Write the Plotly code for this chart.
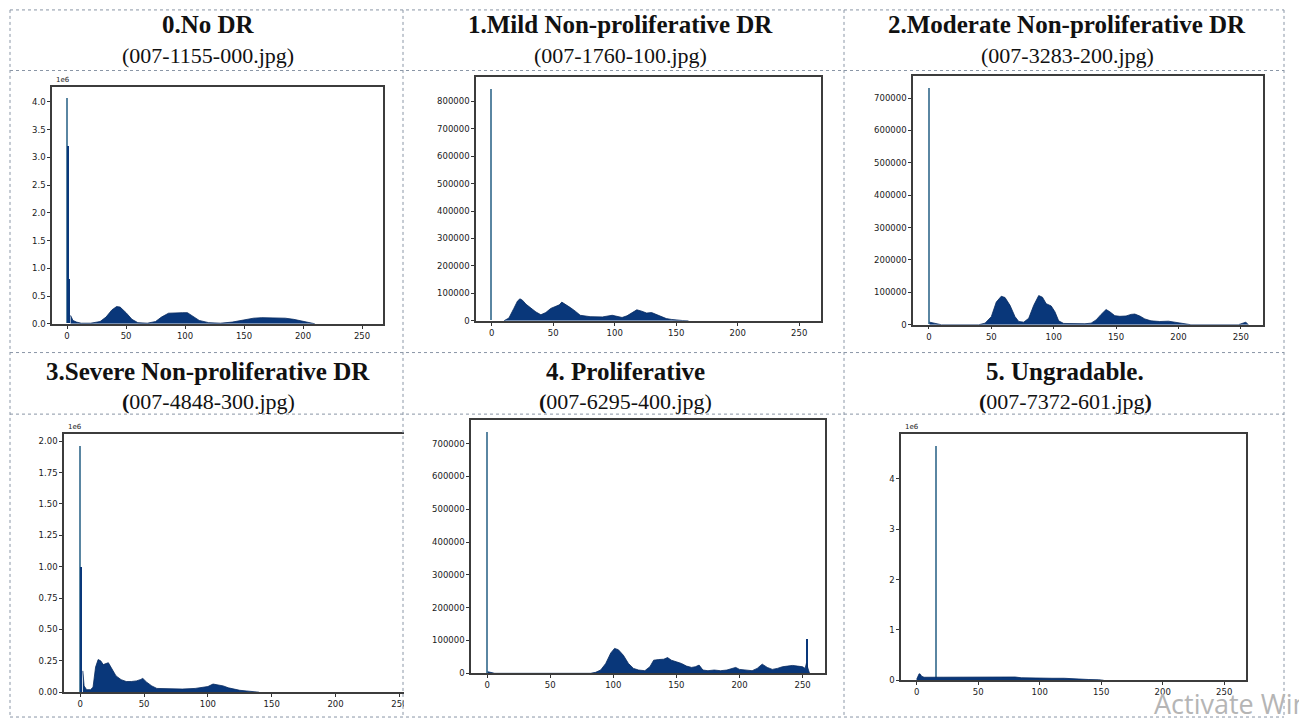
import plotly.graph_objects as go

# ---------------- data ----------------
titles = ["0.No DR", "1.Mild Non-proliferative DR", "2.Moderate Non-proliferative DR",
          "3.Severe Non-proliferative DR", "4. Proliferative", "5. Ungradable."]
files = ["(007-1155-000.jpg)", "(007-1760-100.jpg)", "(007-3283-200.jpg)",
         "<b>(</b>007-4848-300.jpg)", "<b>(</b>007-6295-400.jpg)", "<b>(</b>007-7372-601.jpg<b>)</b>"]

x_ticks = [0, 50, 100, 150, 200, 250]

# Panel 0 : 0.No DR
p0_x = [3, 5, 8, 12, 20, 28, 33, 38, 42, 45, 50, 55, 60, 68, 75, 80, 86, 92, 98, 102, 106, 112,
        120, 130, 140, 150, 158, 165, 175, 185, 192, 198, 204, 210]
p0_y = [150000, 60000, 30000, 10000, 10000, 40000, 120000, 250000, 310000, 300000, 200000, 80000,
        20000, 10000, 40000, 120000, 190000, 200000, 200000, 200000, 150000, 60000, 20000, 10000,
        30000, 70000, 100000, 110000, 110000, 100000, 80000, 50000, 20000, 0]
p0_spike_x = [0, 1, 2]
p0_spike_y = [4060000, 3200000, 800000]

# Panel 1 : Mild
p1_x = [10, 14, 18, 21, 23, 25, 28, 32, 36, 40, 44, 48, 52, 55, 57, 60, 64, 68, 72, 80, 90, 98,
        102, 106, 110, 114, 118, 122, 126, 130, 134, 138, 142, 146, 150, 155, 160]
p1_y = [0, 10000, 45000, 72000, 80000, 75000, 60000, 45000, 32000, 22000, 30000, 45000, 52000,
        58000, 68000, 60000, 48000, 35000, 20000, 15000, 14000, 20000, 15000, 12000, 18000, 30000,
        40000, 35000, 28000, 30000, 22000, 14000, 8000, 5000, 2000, 1000, 0]
p1_spike_x = [0]
p1_spike_y = [845000]

# Panel 2 : Moderate
p2_x = [0.5, 3, 6, 10, 40, 45, 50, 54, 58, 61, 65, 69, 72, 76, 80, 84, 88, 91, 94, 98, 101, 104,
        108, 115, 125, 130, 134, 138, 142, 145, 149, 153, 158, 162, 165, 169, 173, 178, 185, 192,
        198, 202, 206, 210, 248, 251, 254, 256]
p2_y = [8000, 6000, 2000, 0, 0, 5000, 25000, 70000, 88000, 84000, 60000, 25000, 10000, 8000,
        20000, 60000, 90000, 85000, 65000, 58000, 40000, 12000, 4000, 3000, 3000, 5000, 15000,
        32000, 47000, 40000, 28000, 26000, 27000, 32000, 33000, 27000, 18000, 12000, 10000, 11000,
        8000, 5000, 2000, 0, 0, 5000, 8000, 0]
p2_spike_x = [0]
p2_spike_y = [730000]

# Panel 3 : Severe
p3_x = [2, 3, 5, 8, 10, 12, 14, 16, 18, 20, 22, 24, 26, 28, 32, 36, 40, 44, 47, 49, 52, 56, 60,
        70, 80, 90, 95, 100, 104, 108, 112, 116, 120, 125, 130, 135, 140]
p3_y = [170000, 50000, 20000, 20000, 40000, 200000, 260000, 250000, 220000, 230000, 235000,
        200000, 160000, 130000, 100000, 85000, 85000, 90000, 100000, 110000, 80000, 50000, 30000,
        25000, 25000, 30000, 35000, 45000, 65000, 58000, 50000, 35000, 25000, 15000, 10000, 4000, 0]
p3_spike_x = [0, 1]
p3_spike_y = [1960000, 1000000]

# Panel 4 : Proliferative
p4_x = [0.5, 3, 6, 82, 86, 90, 94, 98, 101, 104, 108, 112, 116, 120, 125, 129, 132, 136, 140,
        143, 146, 150, 154, 158, 162, 165, 168, 171, 175, 180, 185, 190, 194, 197, 200, 205, 210,
        214, 218, 222, 226, 230, 234, 238, 242, 246, 250, 252, 253, 255.5]
p4_y = [5000, 3000, 0, 0, 3000, 10000, 30000, 62000, 76000, 72000, 55000, 30000, 15000, 10000,
        8000, 20000, 40000, 42000, 43000, 48000, 40000, 35000, 30000, 22000, 18000, 20000, 25000,
        10000, 8000, 10000, 8000, 10000, 15000, 18000, 12000, 10000, 8000, 15000, 28000, 18000,
        12000, 15000, 20000, 22000, 24000, 22000, 20000, 15000, 30000, 0]
p4_spike_x = [0, 254]
p4_spike_y = [735000, 105000]

# Panel 5 : Ungradable
p5_x = [0, 1, 2, 3, 4, 6, 10, 15, 20, 30, 40, 50, 60, 70, 80, 85, 90, 100, 110, 120, 125, 130,
        140, 148, 152]
p5_y = [20000, 100000, 130000, 120000, 80000, 60000, 60000, 70000, 70000, 70000, 65000, 70000,
        65000, 70000, 65000, 50000, 45000, 45000, 40000, 40000, 30000, 20000, 15000, 10000, 0]
p5_spike_x = [16]
p5_spike_y = [4660000]

p0_yticks = [0, 500000, 1000000, 1500000, 2000000, 2500000, 3000000, 3500000, 4000000]
p0_ylabels = ["0.0", "0.5", "1.0", "1.5", "2.0", "2.5", "3.0", "3.5", "4.0"]
p1_yticks = [0, 100000, 200000, 300000, 400000, 500000, 600000, 700000, 800000]
p1_ylabels = ["0", "100000", "200000", "300000", "400000", "500000", "600000", "700000", "800000"]
p2_yticks = [0, 100000, 200000, 300000, 400000, 500000, 600000, 700000]
p2_ylabels = ["0", "100000", "200000", "300000", "400000", "500000", "600000", "700000"]
p3_yticks = [0, 250000, 500000, 750000, 1000000, 1250000, 1500000, 1750000, 2000000]
p3_ylabels = ["0.00", "0.25", "0.50", "0.75", "1.00", "1.25", "1.50", "1.75", "2.00"]
p4_yticks = p2_yticks
p4_ylabels = p2_ylabels
p5_yticks = [0, 1000000, 2000000, 3000000, 4000000]
p5_ylabels = ["0", "1", "2", "3", "4"]
offset_texts = ["1e6", "", "", "1e6", "", "1e6"]

panels = [
    (p0_x, p0_y, p0_spike_x, p0_spike_y, p0_yticks, p0_ylabels),
    (p1_x, p1_y, p1_spike_x, p1_spike_y, p1_yticks, p1_ylabels),
    (p2_x, p2_y, p2_spike_x, p2_spike_y, p2_yticks, p2_ylabels),
    (p3_x, p3_y, p3_spike_x, p3_spike_y, p3_yticks, p3_ylabels),
    (p4_x, p4_y, p4_spike_x, p4_spike_y, p4_yticks, p4_ylabels),
    (p5_x, p5_y, p5_spike_x, p5_spike_y, p5_yticks, p5_ylabels),
]

# ---------------- layout geometry (pixels) ----------------
W, H = 1299, 725
# (left, right, top, bottom) of each plot frame
frames = [(52, 383, 88, 326), (476, 821, 78, 323), (913, 1263, 77, 327),
          (64, 422, 437, 697), (471, 825, 423, 678), (901, 1246, 437, 685)]
title_pos = [(208, 25, 56), (620, 25, 56), (1067, 25, 56),
             (208, 374, 404), (625, 374, 404), (1065, 374, 404)]

NAVY = "#09377a"
NAVY_EDGE = "#062a60"
SPIKE = "#5a86a2"
FRAME = "#3c3c3c"

fig = go.Figure()
layout = dict(width=W, height=H, margin=dict(l=0, r=0, t=0, b=0),
              paper_bgcolor="white", plot_bgcolor="white", showlegend=False,
              barmode="overlay", bargap=0)

annotations = []
shapes = []

def px(xp):
    return xp / W

def py(yp):
    return 1 - yp / H

for i, (xs, ys, sx, sy, yt, yl) in enumerate(panels):
    n = "" if i == 0 else str(i + 1)
    xa, ya = "x" + n, "y" + n
    fig.add_trace(go.Scatter(x=xs, y=ys, mode="lines", fill="tozeroy",
                             fillcolor=NAVY, line=dict(color=NAVY_EDGE, width=0.8),
                             xaxis=xa, yaxis=ya, hoverinfo="skip"))
    colors = [SPIKE if k == 0 else NAVY for k in range(len(sx))]
    if i == 4:
        colors = [SPIKE, NAVY]
    fig.add_trace(go.Bar(x=sx, y=sy, width=1.3, marker=dict(color=colors, line=dict(width=0)),
                         xaxis=xa, yaxis=ya, hoverinfo="skip"))
    l, r, t, b = frames[i]
    ymax = 1.05 * max(max(ys), max(sy))
    axis_common = dict(showline=True, linecolor=FRAME, linewidth=1.5, mirror=True,
                       showgrid=False, zeroline=False, ticks="outside", ticklen=3,
                       tickwidth=1, tickcolor="#333",
                       tickfont=dict(family="DejaVu Sans", size=8.5, color="#1a1a1a"))
    layout["xaxis" + n] = dict(domain=[px(l), px(r)], range=[-12.75, 267.75],
                               tickvals=x_ticks, anchor=ya, **axis_common)
    layout["yaxis" + n] = dict(domain=[py(b), py(t)], range=[0, ymax],
                               tickvals=yt, ticktext=yl, anchor=xa, **axis_common)
    if offset_texts[i]:
        annotations.append(dict(text=offset_texts[i], xref="paper", yref="paper",
                                x=px(l + 2), y=py(t - 1), xanchor="left", yanchor="bottom",
                                showarrow=False, font=dict(family="DejaVu Sans", size=7, color="#222")))
    cx, ty, sy_ = title_pos[i]
    annotations.append(dict(text="<b>" + titles[i] + "</b>", xref="paper", yref="paper",
                            x=px(cx), y=py(ty), xanchor="center", yanchor="middle",
                            showarrow=False,
                            font=dict(family="Liberation Serif", size=25, color="#111")))
    annotations.append(dict(text=files[i], xref="paper", yref="paper",
                            x=px(cx), y=py(sy_), xanchor="center", yanchor="middle",
                            showarrow=False,
                            font=dict(family="Liberation Serif", size=22, color="#111")))

# white cover that clips panel 3 at the column divider
shapes.append(dict(type="rect", xref="paper", yref="paper", x0=px(404), x1=px(425),
                   y0=py(712), y1=py(425), fillcolor="white", line=dict(width=0), layer="above"))

DASH = dict(color="#8a96a6", width=1, dash="dot")
for xv in [10, 403, 844, 1284]:
    shapes.append(dict(type="line", xref="paper", yref="paper", x0=px(xv), x1=px(xv),
                       y0=py(10), y1=py(722), line=DASH, layer="above"))
for yv in [10, 71, 355, 417, 722]:
    shapes.append(dict(type="line", xref="paper", yref="paper", x0=px(10), x1=px(1284),
                       y0=py(yv), y1=py(yv), line=DASH, layer="above"))

annotations.append(dict(text="Activate Windows", xref="paper", yref="paper",
                        x=px(1152), y=py(708), xanchor="left", yanchor="middle",
                        showarrow=False,
                        font=dict(family="Open Sans", size=27, color="#b5b5b5")))

layout["annotations"] = annotations
layout["shapes"] = shapes
fig.update_layout(**layout)
fig.write_html("out.html", config={"displayModeBar": False},
               post_script="document.body.style.margin='0px';document.body.style.overflow='hidden';")
